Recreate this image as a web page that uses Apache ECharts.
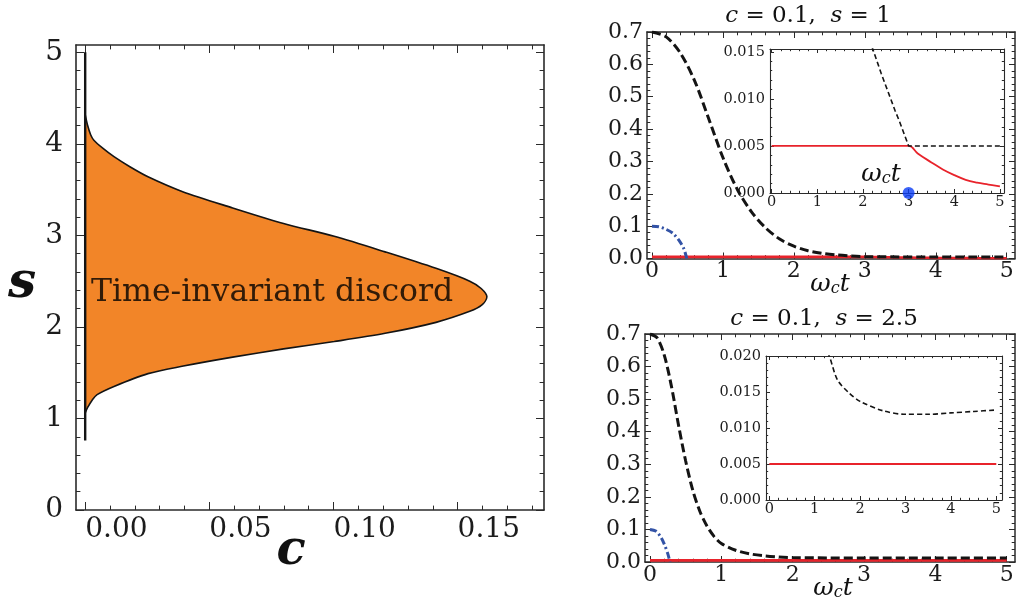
<!DOCTYPE html>
<html>
<head>
<meta charset="utf-8">
<script src="https://cdn.jsdelivr.net/npm/echarts@6/dist/echarts.min.js"></script>
<style>
  html, body { margin: 0; padding: 0; background: #fff; }
  #chart { width: 1023px; height: 597px; }
</style>
</head>
<body>
<div id="chart"></div>
<script>
// ---- left panel: boundary of the time-invariant region, c(s) read top -> bottom
const regionS = [4.32, 4.20, 4.10, 4.04, 3.95, 3.86, 3.75, 3.64, 3.48, 3.30, 3.13, 2.99, 2.82, 2.64, 2.50, 2.42, 2.33,
                 2.24, 2.17, 2.05, 1.93, 1.84, 1.76, 1.67, 1.57, 1.49, 1.35, 1.26, 1.20, 1.12, 1.06];
const regionC = [0.0, 0.0010, 0.0022, 0.0035, 0.0072, 0.0116, 0.0180, 0.0253, 0.0390, 0.0594, 0.0799, 0.1003, 0.1208, 0.1413, 0.1549, 0.1595, 0.1618,
                 0.1598, 0.1549, 0.1413, 0.1208, 0.1003, 0.0799, 0.0594, 0.0390, 0.0253, 0.0116, 0.0048, 0.0028, 0.0010, 0.0];
const axisLineS = [0.76, 5.0];          // vertical line at c = 0
const regionLabel = [0.0753, 2.37];      // where the text sits (c, s)

// ---- top right panel (c = 0.1, s = 1)
const tTop = [0, 0.2, 0.4, 0.6, 0.8, 1.0, 1.2, 1.4, 1.6, 1.8, 2.0, 2.2, 2.4, 2.6, 2.8, 3.0, 3.5, 4.0, 4.5, 5.0];
const blackTop = [0.700, 0.685, 0.635, 0.550, 0.432, 0.312, 0.215, 0.145, 0.095, 0.060, 0.038, 0.024, 0.016, 0.011, 0.008, 0.006, 0.005, 0.005, 0.005, 0.005];
const tBlueTop = [0, 0.1, 0.2, 0.3, 0.4, 0.45, 0.49];
const blueTop = [0.100, 0.098, 0.090, 0.077, 0.050, 0.030, 0.0];
// inset (top)
const tRedIn = [0, 1, 2, 3.0, 3.2, 3.5, 3.75, 4.0, 4.25, 4.5, 4.75, 5.0];
const redIn = [0.005, 0.005, 0.005, 0.005, 0.0042, 0.00325, 0.0025, 0.0019, 0.0014, 0.0011, 0.0009, 0.0007];
const tBlackIn = [2.0, 2.1, 2.2, 2.3, 2.4, 2.5, 2.6, 2.7, 2.8, 2.9, 3.0, 5.0];
const blackIn = [0.0188, 0.0171, 0.0155, 0.0141, 0.0127, 0.0114, 0.0101, 0.0088, 0.0076, 0.0063, 0.0050, 0.0050];
const dotIn = [3, 0];

// ---- bottom right panel (c = 0.1, s = 2.5)
const tBot = [0, 0.1, 0.2, 0.3, 0.4, 0.5, 0.6, 0.7, 0.8, 0.9, 1.0, 1.2, 1.4, 1.6, 1.8, 2.0, 2.5, 3.0, 4.0, 5.0];
const blackBot = [0.700, 0.688, 0.635, 0.540, 0.420, 0.310, 0.220, 0.155, 0.110, 0.078, 0.057, 0.036, 0.025, 0.019, 0.0155, 0.0137, 0.0124, 0.0119, 0.0121, 0.0125];
const tBlueBot = [0, 0.08, 0.15, 0.2, 0.25, 0.28];
const blueBot = [0.100, 0.095, 0.077, 0.055, 0.025, 0.0];
const tRedBot = [0, 5];
const redBot = [0.005, 0.005];
// inset (bottom)
const tBlackIn2 = [1.2, 1.32, 1.5, 1.75, 2.0, 2.5, 3.0, 3.5, 4.0, 4.5, 5.0];
const blackIn2 = [0.0215, 0.0200, 0.0167, 0.0149, 0.0137, 0.0124, 0.0119, 0.0119, 0.0121, 0.0123, 0.0125];

const zip = (a, b) => a.map((v, i) => [v, b[i]]);
function steps(a, b, st) {
  const out = [];
  for (let k = 0; a + k * st <= b + 1e-9; k++) out.push(+(a + k * st).toFixed(6));
  return out;
}

const ORANGE = '#f28528';
const RED = '#e8232b';
const BLUE = '#3353a6';
const INK = '#141414';
const FRAME = '#2a2a2a';
const SERIF = 'DejaVu Serif';

const xAxes = [], yAxes = [];
function makeAxis(gi, pos, o, major, label) {
  return {
    type: 'value', gridIndex: gi, position: pos, min: o.min, max: o.max,
    axisLine: { show: major, onZero: false, lineStyle: { color: FRAME, width: o.lw } },
    axisTick: { show: true, inside: true, length: major ? o.tick : o.tick * 0.55,
                customValues: major ? o.major : o.minor, lineStyle: { color: FRAME, width: 1 } },
    axisLabel: label ? Object.assign({ show: true, customValues: o.major, formatter: o.fmt,
                fontFamily: SERIF, fontSize: o.fs, color: '#1c1c1c', margin: o.margin }, o.extra || {})
              : { show: false },
    splitLine: { show: false }
  };
}
function frame(gi, xo, yo) {
  const ix = xAxes.length, iy = yAxes.length;
  ['bottom', 'top'].forEach(p => {
    xAxes.push(makeAxis(gi, p, xo, true, p === 'bottom'));
    xAxes.push(makeAxis(gi, p, xo, false, false));
  });
  ['left', 'right'].forEach(p => {
    yAxes.push(makeAxis(gi, p, yo, true, p === 'left'));
    yAxes.push(makeAxis(gi, p, yo, false, false));
  });
  return { xAxisIndex: ix, yAxisIndex: iy };
}

const grids = [
  { left: 76, top: 45, width: 468, height: 465 },
  { left: 647, top: 32, width: 368, height: 226.5 },
  { left: 770, top: 49, width: 234, height: 144, show: true, backgroundColor: '#fff', borderWidth: 0 },
  { left: 645, top: 334, width: 370, height: 228 },
  { left: 766, top: 356, width: 236, height: 144, show: true, backgroundColor: '#fff', borderWidth: 0 }
];

const tFmt = v => String(Math.round(v));
const gLeft = frame(0,
  { min: -0.0037, max: 0.1848, major: [0, 0.05, 0.1, 0.15], minor: steps(0, 0.18, 0.01), tick: 8, lw: 1.6,
    fs: 28, margin: 6, fmt: v => v.toFixed(2), extra: { align: 'left' } },
  { min: 0, max: 5.08, major: steps(0, 5, 1), minor: steps(0, 5, 0.2), tick: 8, lw: 1.6,
    fs: 28, margin: 13, fmt: tFmt });
const gTop = frame(1,
  { min: -0.07, max: 5.117, major: steps(0, 5, 1), minor: steps(0, 5, 0.2), tick: 6, lw: 1.5,
    fs: 22, margin: 2, fmt: tFmt },
  { min: 0, max: 0.7, major: steps(0, 0.7, 0.1), minor: steps(0, 0.7, 0.02), tick: 6, lw: 1.5,
    fs: 22, margin: 4, fmt: v => v.toFixed(1) });
const gTopIn = frame(2,
  { min: -0.037, max: 5.09, major: steps(0, 5, 1), minor: steps(0, 5, 0.2), tick: 4, lw: 1.1,
    fs: 14.5, margin: 2, fmt: tFmt },
  { min: 0, max: 0.0153, major: steps(0, 0.015, 0.005), minor: steps(0, 0.015, 0.001), tick: 4, lw: 1.1,
    fs: 14.5, margin: 5, fmt: v => v.toFixed(3) });
const gBot = frame(3,
  { min: -0.07, max: 5.116, major: steps(0, 5, 1), minor: steps(0, 5, 0.2), tick: 6, lw: 1.5,
    fs: 22, margin: 2, fmt: tFmt },
  { min: 0, max: 0.7, major: steps(0, 0.7, 0.1), minor: steps(0, 0.7, 0.02), tick: 6, lw: 1.5,
    fs: 22, margin: 4, fmt: v => v.toFixed(1) });
const gBotIn = frame(4,
  { min: -0.073, max: 5.126, major: steps(0, 5, 1), minor: steps(0, 5, 0.2), tick: 4, lw: 1.1,
    fs: 14.5, margin: 2, fmt: tFmt },
  { min: 0, max: 0.02, major: steps(0, 0.02, 0.005), minor: steps(0, 0.02, 0.001), tick: 4, lw: 1.1,
    fs: 14.5, margin: 5, fmt: v => v.toFixed(3) });

const regionPts = zip(regionC, regionS);

function line(g, data, style, extra) {
  return Object.assign({ type: 'line', xAxisIndex: g.xAxisIndex, yAxisIndex: g.yAxisIndex, data: data,
    showSymbol: false, symbol: 'none', smooth: 0.3, lineStyle: style, silent: true, z: 3 }, extra || {});
}

const series = [
  {
    type: 'custom', xAxisIndex: gLeft.xAxisIndex, yAxisIndex: gLeft.yAxisIndex, data: regionPts, silent: true, z: 1,
    renderItem: (params, api) => {
      if (params.dataIndex !== 0) return null;
      return { type: 'polygon', shape: { points: regionPts.map(p => api.coord(p)), smooth: 0.3 },
               style: { fill: ORANGE } };
    }
  },
  line(gLeft, regionPts, { color: INK, width: 1.6 }),
  line(gLeft, axisLineS.map(s => [0, s]), { color: INK, width: 2.4 }, { smooth: false }),
  {
    type: 'scatter', xAxisIndex: gLeft.xAxisIndex, yAxisIndex: gLeft.yAxisIndex, data: [regionLabel],
    symbolSize: 0, silent: true, z: 5,
    label: { show: true, position: 'inside', formatter: 'Time-invariant discord',
             fontFamily: SERIF, fontSize: 31.5, color: '#000' }
  },

  // top main
  line(gTop, zip(tRedIn, redIn), { color: RED, width: 2.6 }),
  line(gTop, zip(tBlueTop, blueTop), { color: BLUE, width: 3, type: [7, 3, 2, 3] }),
  line(gTop, zip(tTop, blackTop), { color: INK, width: 3, type: [9, 4] }),
  // top inset
  line(gTopIn, zip(tRedIn, redIn), { color: RED, width: 1.8 }, { smooth: 0.4 }),
  line(gTopIn, zip(tBlackIn, blackIn), { color: INK, width: 1.6, type: [5, 3] }, { smooth: false }),
  {
    type: 'scatter', xAxisIndex: gTopIn.xAxisIndex, yAxisIndex: gTopIn.yAxisIndex, data: [dotIn],
    symbolSize: 12, clip: false, itemStyle: { color: '#0a3cf5' }, silent: true, z: 10
  },

  // bottom main
  line(gBot, zip(tRedBot, redBot), { color: RED, width: 2.6 }),
  line(gBot, zip(tBlueBot, blueBot), { color: BLUE, width: 3, type: [7, 3, 2, 3] }),
  line(gBot, zip(tBot, blackBot), { color: INK, width: 3, type: [9, 4] }),
  // bottom inset
  line(gBotIn, zip(tRedBot, redBot), { color: RED, width: 1.8 }),
  line(gBotIn, zip(tBlackIn2, blackIn2), { color: INK, width: 1.6, type: [5, 3] })
];

const omegaRich = {
  w: { fontFamily: SERIF, fontStyle: 'italic', fontSize: 25, lineHeight: 30, verticalAlign: 'bottom', fill: '#111' },
  sub: { fontFamily: SERIF, fontStyle: 'italic', fontSize: 16, lineHeight: 18, verticalAlign: 'bottom', fill: '#111' }
};
const titleRich = {
  i: { fontFamily: SERIF, fontStyle: 'italic', fontSize: 23, fill: '#111' },
  n: { fontFamily: SERIF, fontSize: 23, fill: '#111' }
};
function txt(x, y, text, rich, font) {
  return { type: 'text', x: x, y: y, z: 20, silent: true,
           style: { text: text, rich: rich, font: font, fill: '#111', align: 'center', verticalAlign: 'middle' } };
}

const chart = echarts.init(document.getElementById('chart'), null, { renderer: 'canvas' });
chart.setOption({
  animation: false,
  backgroundColor: '#fff',
  grid: grids,
  xAxis: xAxes,
  yAxis: yAxes,
  series: series,
  graphic: [
    txt(22, 284, 's', null, 'italic bold 50px "DejaVu Serif"'),
    txt(291, 552, 'c', null, 'italic bold 48px "DejaVu Serif"'),
    txt(808, 16, '{i|c}{n| = 0.1,  }{i|s}{n| = 1}', titleRich),
    txt(824, 319, '{i|c}{n| = 0.1,  }{i|s}{n| = 2.5}', titleRich),
    txt(830, 282, '{w|ω}{sub|c}{w|t}', omegaRich),
    txt(833, 586, '{w|ω}{sub|c}{w|t}', omegaRich),
    txt(881, 172, '{w|ω}{sub|c}{w|t}', omegaRich)
  ]
});
</script>
</body>
</html>
